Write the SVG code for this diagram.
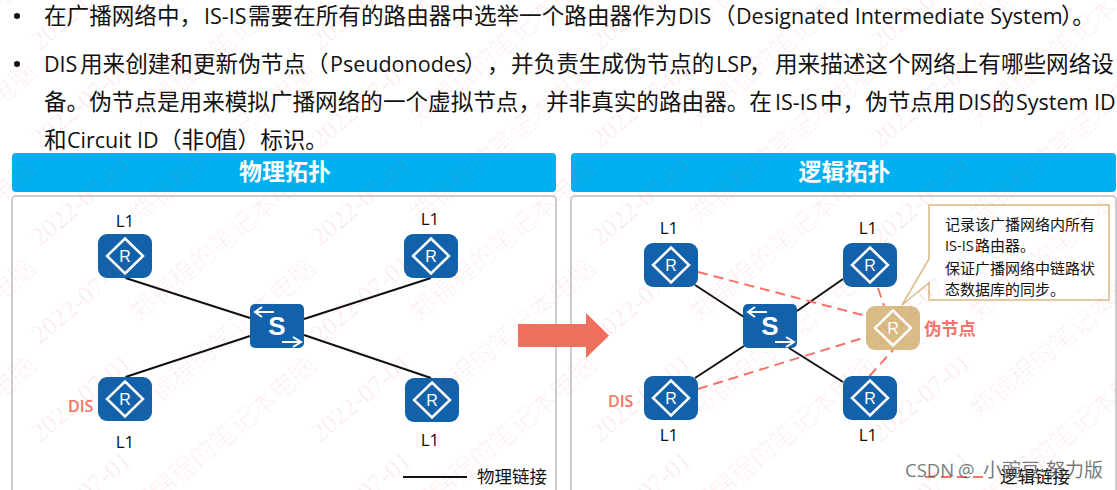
<svg xmlns="http://www.w3.org/2000/svg" xmlns:xlink="http://www.w3.org/1999/xlink" width="1117" height="490" viewBox="0 0 1117 490">
<style>
text{font-family:"Noto Sans CJK SC","Open Sans",sans-serif;fill:#111}
.body{font-size:22.6px}
.la{font-family:"Open Sans","Noto Sans",sans-serif;font-size:21.5px}
.head{font-size:23px;font-weight:700;fill:#fff;text-anchor:middle}
.l1{font-family:"Open Sans",sans-serif;font-size:17px;text-anchor:middle}
.dis{font-family:"Open Sans",sans-serif;font-size:16px;font-weight:600;fill:#f4746a}
.note{font-size:15px}
.nl{font-family:"Open Sans",sans-serif;font-size:14.5px}
.leg{font-size:17.5px}
.panel{fill:#fff;stroke:#bdbdbd;stroke-width:1.5}
.bar{fill:#00b0f0}
.dev{fill:#1262ab}
.dia{fill:none;stroke:#fff;stroke-width:2.5}
.r{font-family:"Liberation Sans",sans-serif;font-size:16px;fill:#fff;text-anchor:middle}
.s{font-family:"Liberation Sans",sans-serif;font-size:26px;font-weight:700;fill:#fff;text-anchor:middle}
.arr{fill:none;stroke:#fff;stroke-width:2}
.phy{stroke:#111;stroke-width:2;fill:none}
.log{stroke:#f4746a;stroke-width:2;stroke-dasharray:10 6;fill:none}
.wm{font-size:26px;fill:#f03030;fill-opacity:.09}
.wn{font-weight:300}
.wd{font-family:"Liberation Serif",serif}
.cs{font-size:19px;fill:#555;fill-opacity:.8}
.csl{font-family:"Open Sans",sans-serif;font-size:18.5px;fill:#555;fill-opacity:.8}
</style>
<defs>
<g id="rt"><rect x="-27" y="-22" width="54" height="44" rx="9" class="dev"/></g>
<path id="dm" d="M0-17.5 18 0 0 17.5-18 0Z" class="dia"/>
<g id="sw">
<rect x="-27" y="-22" width="54" height="44" rx="5" class="dev"/>
<path d="M-3-14H-21M-15-19-22-14-15-9" class="arr"/>
<path d="M5 16H23M16 11 24 16 16 21" class="arr"/>
<text x="0" y="9" class="s">S</text>
</g>
<g id="tile">
<text x="40" y="45" transform="rotate(-40 40 45)" class="wm wd">2022-07-01</text>
<text x="139" y="23" transform="rotate(-40 139 23)" class="wm wn">郑锦程的笔记本电脑</text>
</g>
</defs>
<rect width="1117" height="490" fill="#fff"/>
<g id="bullets">
<circle cx="17" cy="16" r="3" fill="#111"/>
<circle cx="17" cy="64" r="3" fill="#111"/>
<text y="24" class="body"><tspan x="44">在广播网络中，</tspan><tspan x="204" class="la">IS-IS</tspan><tspan x="248">需要在所有的路由器中选举一个路由器作为</tspan><tspan x="678" class="la">DIS</tspan><tspan x="713">（</tspan><tspan x="736" class="la">Designated Intermediate System</tspan><tspan x="1061">）。</tspan></text>
<text y="72" class="body"><tspan x="44" class="la">DIS</tspan><tspan x="80">用来创建和更新伪节点（</tspan><tspan x="330" class="la">Pseudonodes</tspan><tspan x="464">）</tspan><tspan x="487">，</tspan><tspan x="511">并负责生成伪节点的</tspan><tspan x="716" class="la">LSP</tspan><tspan x="749">，</tspan><tspan x="775">用来描述这个网络上有哪些网络设</tspan></text>
<text y="110" class="body"><tspan x="44">备。伪节点是用来模拟广播网络的一个虚拟节点，</tspan><tspan x="546">并非真实的路由器。在</tspan><tspan x="775" class="la">IS-IS</tspan><tspan x="820">中，伪节点用</tspan><tspan x="958" class="la">DIS</tspan><tspan x="992">的</tspan><tspan x="1016" class="la">System ID</tspan></text>
<text y="148" class="body"><tspan x="44">和</tspan><tspan x="67" class="la">Circuit ID</tspan><tspan x="159">（非</tspan><tspan x="205" class="la">0</tspan><tspan x="215">值）标识。</tspan></text>
</g>
<g id="panel-left">
<rect x="12" y="153" width="544" height="39" rx="4" class="bar"/>
<text x="285" y="180" class="head">物理拓扑</text>
<path d="M12 492V200a4 4 0 0 1 4-4H552a4 4 0 0 1 4 4V492" class="panel"/>
</g>
<g id="panel-right">
<rect x="571" y="153" width="545" height="39" rx="4" class="bar"/>
<text x="844.5" y="180" class="head">逻辑拓扑</text>
<path d="M571 492V200a4 4 0 0 1 4-4H1112a4 4 0 0 1 4 4V492" class="panel"/>
</g>
<path id="transition-arrow" d="M518 324H586V313L609 335.5 586 358V347H518Z" fill="#f07060"/>
<g id="connectors">
<path d="M125.5 278 250 318M125.5 377 250 336M431 278 304 319M431 378 304 335" class="phy"/>
<path d="M695 285 744 317M695 378 744 346M843 279 797 311M843 382 789 348" class="phy"/>
<path d="M698 272 866 316M698 389 866 337M878 288 884 306M869.5 376 893 350" class="log"/>
<path d="M403 477H467" class="phy"/>
<path d="M925 477H983" class="log"/>
</g>
<g id="l-tl"><use xlink:href="#rt" href="#rt" x="125" y="256"/><use href="#dm" xlink:href="#dm" x="125" y="256"/><text x="125" y="262" class="r">R</text><text x="125" y="227" class="l1">L1</text></g>
<g id="l-tr"><use href="#rt" xlink:href="#rt" x="431" y="256"/><use href="#dm" xlink:href="#dm" x="431" y="256"/><text x="431" y="262" class="r">R</text><text x="430" y="225" class="l1">L1</text></g>
<g id="l-bl"><use href="#rt" xlink:href="#rt" x="125" y="399"/><use href="#dm" xlink:href="#dm" x="125" y="399"/><text x="125" y="405" class="r">R</text><text x="125" y="448" class="l1">L1</text><text x="68" y="412" class="dis">DIS</text></g>
<g id="l-br"><use href="#rt" xlink:href="#rt" x="432" y="400"/><use href="#dm" xlink:href="#dm" x="432" y="400"/><text x="432" y="406" class="r">R</text><text x="430" y="446" class="l1">L1</text></g>
<g id="l-sw"><use href="#sw" xlink:href="#sw" x="277" y="326"/></g>
<g id="r-tl"><use href="#rt" xlink:href="#rt" x="671" y="265"/><use href="#dm" xlink:href="#dm" x="671" y="265"/><text x="671" y="271" class="r">R</text><text x="669" y="234" class="l1">L1</text></g>
<g id="r-tr"><use href="#rt" xlink:href="#rt" x="870" y="265"/><use href="#dm" xlink:href="#dm" x="870" y="265"/><text x="870" y="271" class="r">R</text><text x="868" y="234" class="l1">L1</text></g>
<g id="r-bl"><use href="#rt" xlink:href="#rt" x="671" y="398"/><use href="#dm" xlink:href="#dm" x="671" y="398"/><text x="671" y="404" class="r">R</text><text x="669" y="441" class="l1">L1</text><text x="608" y="407" class="dis">DIS</text></g>
<g id="r-br"><use href="#rt" xlink:href="#rt" x="870" y="398"/><use href="#dm" xlink:href="#dm" x="870" y="398"/><text x="870" y="404" class="r">R</text><text x="868" y="441" class="l1">L1</text></g>
<g id="r-sw"><use href="#sw" xlink:href="#sw" x="770" y="326"/></g>
<g id="pseudo">
<rect x="866" y="306" width="54" height="44" rx="9" fill="#d9bb85"/>
<use href="#dm" xlink:href="#dm" x="893" y="328"/>
<text x="893" y="334" class="r">R</text>
<text x="924" y="335" style="font-size:17.3px;font-weight:700;fill:#f4746a">伪节点</text>
</g>
<g id="callout">
<path d="M929 205H1109V300H929V283L902 305 929 259Z" fill="#fff" stroke="#d9bb85" stroke-width="1.5"/>
<text x="945" y="230" class="note">记录该广播网络内所有</text>
<text y="251" class="note"><tspan x="945" class="nl">IS-IS</tspan><tspan x="975">路由器。</tspan></text>
<text x="945" y="274" class="note">保证广播网络中链路状</text>
<text x="945" y="295" class="note">态数据库的同步。</text>
</g>
<g id="legend">
<text x="477" y="483" class="leg">物理链接</text>
<text x="1000" y="483" class="leg">逻辑链接</text>
</g>
<g id="watermark">
<use href="#tile" x="-280" y="-92"/><use href="#tile" x="0" y="-92"/><use href="#tile" x="280" y="-92"/><use href="#tile" x="560" y="-92"/><use href="#tile" x="840" y="-92"/><use href="#tile" x="1120" y="-92"/>
<use href="#tile" x="-280" y="6"/><use href="#tile" x="0" y="6"/><use href="#tile" x="280" y="6"/><use href="#tile" x="560" y="6"/><use href="#tile" x="840" y="6"/><use href="#tile" x="1120" y="6"/>
<use href="#tile" x="-280" y="104"/><use href="#tile" x="0" y="104"/><use href="#tile" x="280" y="104"/><use href="#tile" x="560" y="104"/><use href="#tile" x="840" y="104"/><use href="#tile" x="1120" y="104"/>
<use href="#tile" x="-280" y="202"/><use href="#tile" x="0" y="202"/><use href="#tile" x="280" y="202"/><use href="#tile" x="560" y="202"/><use href="#tile" x="840" y="202"/><use href="#tile" x="1120" y="202"/>
<use href="#tile" x="-280" y="300"/><use href="#tile" x="0" y="300"/><use href="#tile" x="280" y="300"/><use href="#tile" x="560" y="300"/><use href="#tile" x="840" y="300"/><use href="#tile" x="1120" y="300"/>
<use href="#tile" x="-280" y="398"/><use href="#tile" x="0" y="398"/><use href="#tile" x="280" y="398"/><use href="#tile" x="560" y="398"/><use href="#tile" x="840" y="398"/><use href="#tile" x="1120" y="398"/>
<use href="#tile" x="-280" y="496"/><use href="#tile" x="0" y="496"/><use href="#tile" x="280" y="496"/><use href="#tile" x="560" y="496"/><use href="#tile" x="840" y="496"/><use href="#tile" x="1120" y="496"/>
</g>
<text id="csdn" y="477" class="cs"><tspan x="905" class="csl">CSDN</tspan><tspan x="958" class="csl">@</tspan><tspan x="983">小豌豆</tspan><tspan x="1040" class="csl">-</tspan><tspan x="1046">努力版</tspan></text>
</svg>
